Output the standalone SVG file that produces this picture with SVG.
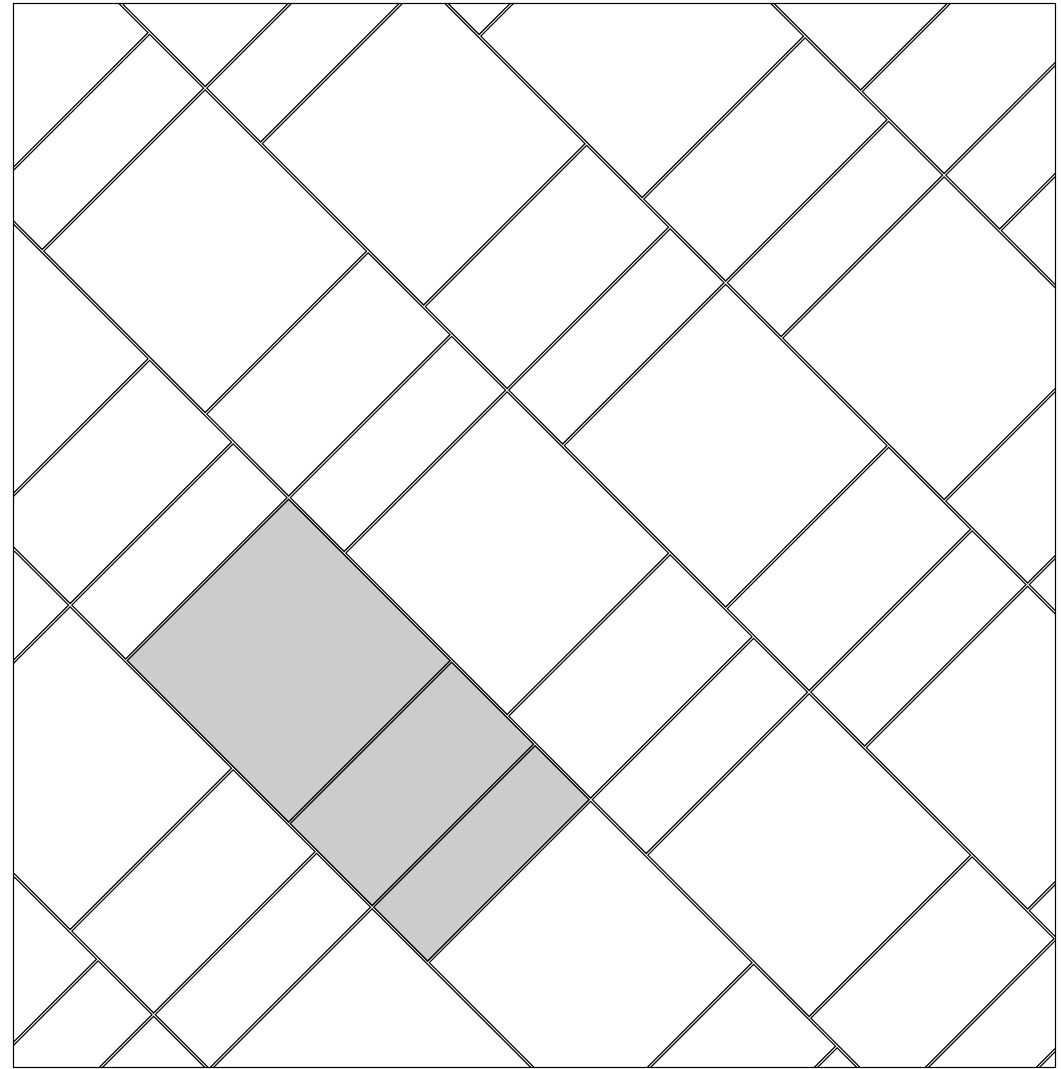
<svg xmlns="http://www.w3.org/2000/svg" xmlns:xlink="http://www.w3.org/1999/xlink" width="1061" height="1069" viewBox="0 0 1061 1069">
<style>
.r{fill:#fff;stroke:#000;stroke-width:1.3;vector-effect:non-scaling-stroke}
.s{fill:#ccc}
</style>
<defs>
<clipPath id="c"><rect x="13.5" y="3.5" width="1042" height="1064"/></clipPath>
<g id="per">
<rect class="r" x="1.65" y="1.65" width="322.7" height="322.7"/>
<rect class="r" x="327.65" y="1.65" width="163.7" height="322.7"/>
<rect class="r" x="494.65" y="1.65" width="107.7" height="322.7"/>
</g>
</defs>
<rect x="0" y="0" width="1061" height="1069" fill="#fff"/>
<g id="tiling" clip-path="url(#c)">
<g transform="matrix(0.5,0.5,0.5,-0.5,0,0)">
<use href="#per" x="564.3" y="-1187"/>
<use href="#per" x="1168.3" y="-1187"/>
<use href="#per" x="1772.3" y="-1187"/>
<use href="#per" x="71.3" y="-861"/>
<use href="#per" x="675.3" y="-861"/>
<use href="#per" x="1279.3" y="-861"/>
<use href="#per" x="1883.3" y="-861"/>
<use href="#per" x="-421.7" y="-535"/>
<use href="#per" x="182.3" y="-535"/>
<use href="#per" x="786.3" y="-535"/>
<use href="#per" x="1390.3" y="-535"/>
<use href="#per" x="1994.3" y="-535"/>
<use href="#per" x="-310.7" y="-209"/>
<use href="#per" x="293.3" y="-209"/>
<use href="#per" x="897.3" y="-209"/>
<use href="#per" x="1501.3" y="-209"/>
<use href="#per" x="2105.3" y="-209"/>
<use href="#per" x="-199.7" y="117"/>
<use href="#per" x="404.3" y="117"/>
<use href="#per" x="1008.3" y="117"/>
<use href="#per" x="1612.3" y="117"/>
<use href="#per" x="-88.7" y="443"/>
<use href="#per" x="515.3" y="443"/>
<use href="#per" x="1119.3" y="443"/>
<use href="#per" x="1723.3" y="443"/>
<use href="#per" x="22.3" y="769"/>
<use href="#per" x="626.3" y="769"/>
<use href="#per" x="1230.3" y="769"/>
<g id="shaded">
<rect class="r s" x="787.95" y="-533.35" width="322.7" height="322.7"/>
<rect class="r s" x="1113.95" y="-533.35" width="163.7" height="322.7"/>
<rect class="r s" x="1280.95" y="-533.35" width="107.7" height="322.7"/>
</g>
</g>
</g>
<rect id="border" x="13.5" y="3.5" width="1042" height="1064" fill="none" stroke="#000" stroke-width="1.2"/>
</svg>
